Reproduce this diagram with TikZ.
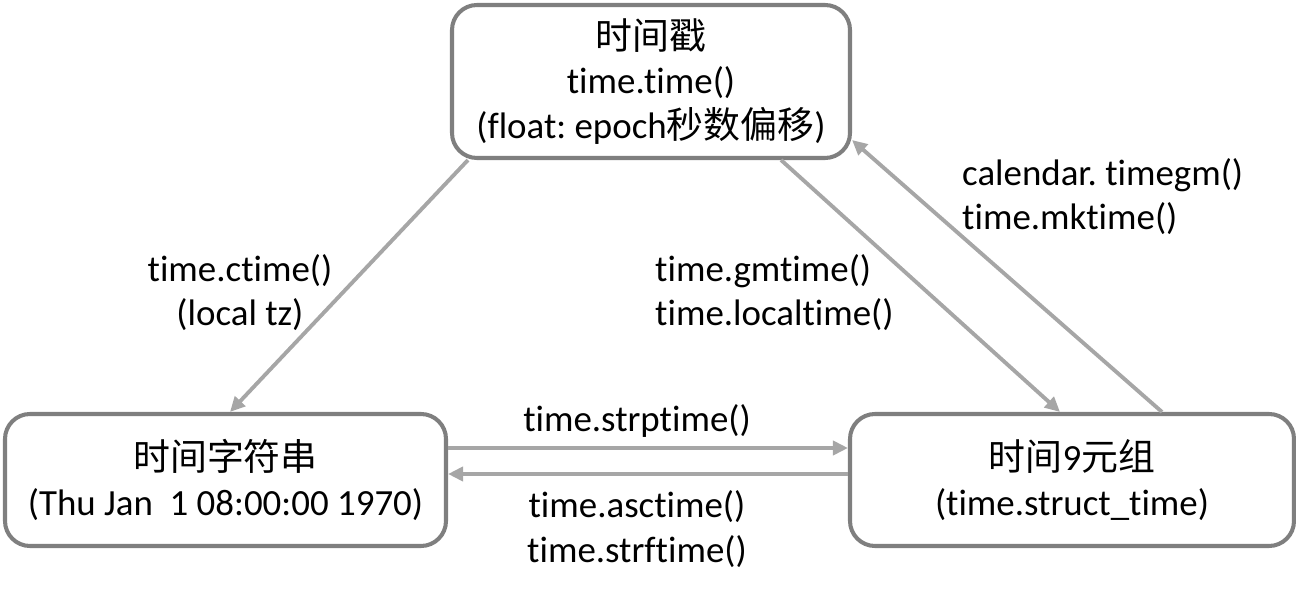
\documentclass[tikz,border=0pt]{standalone}
\usepackage{fontspec}
\setmainfont{Carlito}[Ligatures={NoCommon}]
\newfontfamily\cjk{Noto Sans CJK SC}
\usetikzlibrary{arrows.meta,positioning,calc}
\frenchspacing
\definecolor{boxline}{HTML}{7F7F7F}
\definecolor{arrowline}{HTML}{A6A6A6}
\tikzset{
  >={Triangle[length=3.0mm,width=2.8mm]},
  conv/.style={->, draw=arrowline, line width=2.2pt},
  kind/.style={draw=boxline, fill=white, rounded corners=5mm, line width=2.3pt,
               align=center, font=\fontsize{21}{25.5}\selectfont},
  fname/.style={font=\fontsize{21}{25.5}\selectfont, text=black},
}

\begin{document}
\begin{tikzpicture}[x=1cm,y=1cm]
\useasboundingbox (0,0) rectangle (25.92,11.92);

% Representations --------------------------------------------------------------
\node[kind, minimum width=7.96cm, minimum height=3.06cm] (stamp) at (13.02,10.29)
  {{\cjk 时间戳}\\time.time()\\(float: epoch{\cjk 秒数偏移})};
\node[kind, minimum width=8.82cm, minimum height=2.64cm] (text) at (4.51,2.32)
  {{\cjk 时间字符串}\\(Thu Jan\ \ 1 08:00:00 1970)};
\node[kind, minimum width=8.88cm, minimum height=2.64cm] (tuple) at (21.44,2.32)
  {{\cjk 时间}9{\cjk 元组}\\(time.struct\_time)};

% Conversions ------------------------------------------------------------------
\draw[conv] ([xshift=0.36cm]stamp.south west) -- ([xshift=0.09cm]text.north);
\draw[conv] ([xshift=-1.42cm]stamp.south east) -- ([xshift=-0.24cm]tuple.north);
\draw[conv] ([xshift=1.80cm]tuple.north) -- ([yshift=-1.17cm]stamp.east);
\draw[conv] ([yshift=0.64cm]text.east) -- ([yshift=0.64cm]tuple.west);
\draw[conv] ([yshift=0.12cm]tuple.west) -- ([yshift=0.12cm]text.east);

\node[fname, align=center] (ctime) at (4.80,6.07) {time.ctime()\\(local tz)};
\node[fname, align=left, anchor=west] (gmtime) at (12.98,6.07) {time.gmtime()\\time.localtime()};
\node[fname, align=left, anchor=west] (mktime) at (19.12,7.99) {calendar. timegm()\\time.mktime()};
\node[fname] (strptime) at (12.74,3.50) {time.strptime()};
\node[fname, align=center] (strftime) at (12.74,1.34) {time.asctime()\\time.strftime()};

\end{tikzpicture}
\end{document}
